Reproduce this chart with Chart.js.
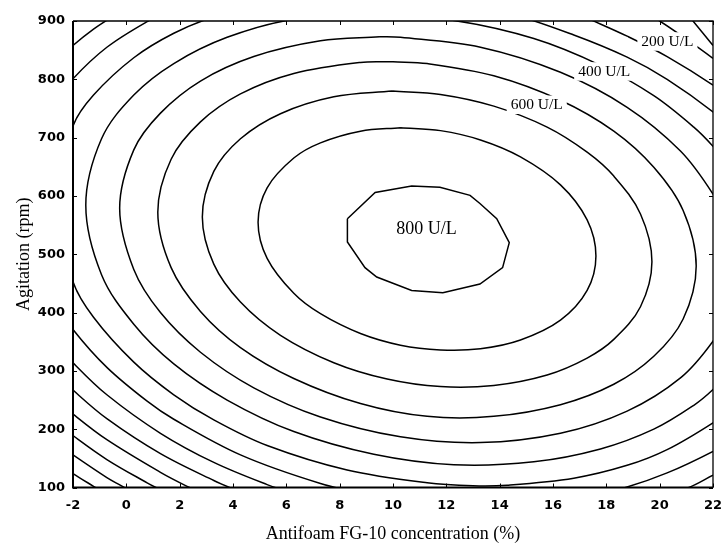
<!DOCTYPE html>
<html>
<head>
<meta charset="utf-8">
<script src="https://cdn.jsdelivr.net/npm/chart.js@4.4.1/dist/chart.umd.min.js"></script>
<style>
  html, body { margin: 0; padding: 0; background: #fff; }
  #wrap { width: 721px; height: 545px; }
</style>
</head>
<body>
<div id="wrap"><canvas id="contour"></canvas></div>
<script>
// contour levels (U/L), each traced as one or more pieces of [antifoam %, agitation rpm]
const levels = [800, 700, 600, 500, 400, 300, 200, 100, 0, -100, -200, -300, -400, -500];

const lvl800 = [[[8.29,561],[9.33,606],[10.70,617],[11.76,615],[12.89,601],[13.26,587],[13.89,561],[14.36,520],[14.11,477],[13.26,449],[11.87,434],[10.70,438],[9.39,461],[8.95,477],[8.29,521],[8.29,561]]];
const lvl700 = [[[10.28,717],[11.78,712],[13.28,696],[14.78,667],[16.28,619],[17.28,559],[17.61,497],[17.28,438],[16.28,387],[14.78,353],[13.28,338],[11.78,336],[10.28,344],[8.78,364],[7.28,398],[6.28,433],[5.28,493],[4.94,555],[5.28,614],[6.28,665],[7.28,691],[8.78,711],[10.28,717]]];
const lvl600 = [[[9.98,780],[11.78,774],[13.78,754],[15.78,718],[17.28,675],[18.28,634],[19.28,569],[19.71,487],[19.28,410],[18.28,354],[17.28,322],[15.78,293],[13.78,275],[11.78,273],[9.78,286],[7.78,314],[5.78,361],[4.28,418],[3.28,483],[2.85,564],[3.28,642],[4.28,698],[5.78,741],[7.78,770],[9.98,780]]];
const lvl500 = [[[10.0,830],[11.28,827],[13.78,806],[16.28,764],[18.28,711],[19.78,649],[20.88,575],[21.37,480],[20.88,389],[19.78,325],[18.28,277],[16.28,242],[13.78,222],[11.28,222],[8.78,244],[6.28,287],[4.28,340],[2.78,402],[1.68,477],[1.18,572],[1.68,663],[2.78,727],[4.28,775],[6.28,810],[8.78,829],[10.0,830]]];
const lvl400 = [[[9.5,873],[10.28,872],[13.28,855],[16.28,812],[18.78,752],[20.78,677],[22.0,603],[22.48,556],[22.8,473],[22.48,394],[22.0,351],[20.78,288],[18.78,231],[16.28,193],[13.28,177],[10.28,187],[7.28,221],[4.78,271],[2.78,332],[1.28,400],[0.28,474],[-0.25,579],[0.28,679],[1.28,742],[2.78,797],[4.78,839],[7.28,866],[9.5,873]]];
const lvl300 = [[[9.28,911],[12.28,901],[15.28,870],[17.78,824],[19.78,772],[21.28,718],[22.0,685],[22.78,641],[23.48,585],[24.07,467],[23.48,355],[22.78,306],[22.0,268],[21.28,241],[19.78,200],[17.78,166],[15.28,144],[12.28,139],[9.28,157],[6.28,196],[3.78,250],[1.78,312],[0.28,380],[-0.93,465],[-1.52,584],[-0.93,698],[0.28,773],[1.78,827],[3.78,872],[6.28,903],[9.28,911]]];
const lvl200 = [[[-2.68,590],[-2.0,720],[-1.23,773],[0.28,837],[1.78,879],[3.28,907],[5.28,930],[8.28,945],[11.28,941],[14.28,914],[16.78,876],[18.78,838],[20.28,800],[22.0,744],[22.78,710],[23.78,653],[24.48,600],[25.23,462],[24.48,331],[23.78,284],[22.78,238],[22.0,211],[20.28,165],[18.78,138],[16.78,116],[14.28,104],[13.0,103],[11.28,108],[8.28,130],[5.28,172],[3.28,216],[1.78,259],[0.28,315],[-1.23,392],[-2.0,453],[-2.68,590]]];
const lvl100 = [
  [[1.78,921],[0.78,899],[-0.73,855],[-2.0,801],[-2.73,757]],
  [[-2.73,422],[-2.0,371],[-0.73,306],[0.78,248],[1.78,217],[4.28,156],[7.28,107],[9.28,86]],
  [[17.28,905],[18.78,874],[20.28,839],[22.0,790],[22.78,761]],
  [[17.28,86],[18.78,101],[20.28,125],[22.0,162],[22.78,184]]
];
const lvl0 = [
  [[-2.73,827],[-2.0,858],[-1.23,886],[-0.53,907],[0.28,928]],
  [[-2.73,352],[-2.0,314],[-0.73,259],[1.28,193],[3.28,143],[5.28,105],[6.28,90]],
  [[19.5,912],[20.0,900],[21.0,869],[22.0,836],[22.78,808]],
  [[20.0,85],[21.1,100],[22.0,121],[22.78,139]]
];
const lvlM100 = [
  [[-2.73,299],[-2.0,267],[-0.73,218],[1.28,158],[3.28,112],[4.28,92],[4.78,83]],
  [[20.9,920],[21.25,900],[22.0,858],[22.5,829]]
];
const lvlM200 = [[[-2.73,255],[-2.0,226],[-0.73,182],[1.28,126],[2.28,102],[2.78,92]]];
const lvlM300 = [[[-2.73,215],[-2.0,189],[-0.73,148],[0.78,108],[1.28,96],[1.78,84]]];
const lvlM400 = [[[-2.73,180],[-2.0,156],[-0.73,117],[-0.23,104],[0.28,91]]];
const lvlM500 = [[[-2.73,147],[-2.0,124],[-1.23,102],[-0.73,88]]];

const xTicks = [-2, 0, 2, 4, 6, 8, 10, 12, 14, 16, 18, 20, 22];
const yTicks = [100, 200, 300, 400, 500, 600, 700, 800, 900];

// contour labels and where they sit (data units)
const labelText = ['800 U/L', '600 U/L', '400 U/L', '200 U/L'];
const labelX = [11.26, 15.39, 17.92, 20.29];
const labelY = [542.5, 755.5, 812.6, 864];

const lines = {
  800: lvl800, 700: lvl700, 600: lvl600, 500: lvl500, 400: lvl400, 300: lvl300,
  200: lvl200, 100: lvl100, 0: lvl0, '-100': lvlM100, '-200': lvlM200,
  '-300': lvlM300, '-400': lvlM400, '-500': lvlM500
};

const datasets = [];
levels.forEach(lv => {
  lines[lv].forEach(piece => {
    datasets.push({
      label: lv + ' U/L',
      data: piece.map(p => ({ x: p[0], y: p[1] })),
      showLine: true,
      borderColor: '#000',
      borderWidth: 1.5,
      pointRadius: 0,
      tension: lv === 800 ? 0 : 0.35,
      fill: false
    });
  });
});

const serif = "'Liberation Serif', 'Times New Roman', serif";
const tickFont = { family: "'DejaVu Sans', sans-serif", size: 13, weight: 'bold' };

// white-backed labels on the lines, then the frame with inward ticks
const decor = {
  id: 'decor',
  afterDatasetsDraw(chart) {
    const { ctx, scales: { x, y } } = chart;
    ctx.save();
    labelText.forEach((t, i) => {
      const size = i === 0 ? 18 : 15.5;
      ctx.font = size + 'px ' + serif;
      const px = x.getPixelForValue(labelX[i]);
      const py = y.getPixelForValue(labelY[i]);
      const w = ctx.measureText(t).width;
      ctx.fillStyle = '#fff';
      ctx.fillRect(px - w / 2 - 4, py - size * 0.5 - 2, w + 8, size + 3);
      ctx.fillStyle = '#000';
      ctx.textAlign = 'center';
      ctx.textBaseline = 'middle';
      ctx.fillText(t, px, py);
    });
    ctx.restore();
  },
  afterDraw(chart) {
    const { ctx, chartArea: a, scales: { x, y } } = chart;
    ctx.save();
    ctx.strokeStyle = '#000';
    ctx.lineWidth = 1;
    ctx.beginPath();
    xTicks.forEach(v => {
      const px = Math.round(x.getPixelForValue(v)) + 0.5;
      ctx.moveTo(px, a.bottom); ctx.lineTo(px, a.bottom - 4);
      ctx.moveTo(px, a.top); ctx.lineTo(px, a.top + 4);
    });
    yTicks.forEach(v => {
      const py = Math.round(y.getPixelForValue(v)) + 0.5;
      ctx.moveTo(a.left, py); ctx.lineTo(a.left + 4, py);
      ctx.moveTo(a.right, py); ctx.lineTo(a.right - 4, py);
    });
    ctx.stroke();
    ctx.lineWidth = 1.3;
    ctx.beginPath();
    ctx.moveTo(a.left, a.top); ctx.lineTo(a.right, a.top); ctx.lineTo(a.right, a.bottom);
    ctx.stroke();
    ctx.lineWidth = 2;
    ctx.beginPath();
    ctx.moveTo(a.left, a.top); ctx.lineTo(a.left, a.bottom); ctx.lineTo(a.right, a.bottom);
    ctx.stroke();
    ctx.restore();
  }
};

new Chart(document.getElementById('contour'), {
  type: 'scatter',
  data: { datasets },
  options: {
    responsive: true,
    maintainAspectRatio: false,
    animation: false,
    layout: { padding: { left: 0, right: 8, top: 21, bottom: 0 } },
    elements: { line: { capBezierPoints: false } },
    plugins: { legend: { display: false }, tooltip: { enabled: false } },
    scales: {
      x: {
        type: 'linear', min: -2, max: 22,
        afterBuildTicks: s => { s.ticks = xTicks.map(v => ({ value: v })); },
        afterFit: s => { s.height = 57.5; s.paddingLeft = 0; s.paddingRight = 0; },
        grid: { display: false, drawTicks: false },
        border: { display: false },
        ticks: { font: tickFont, color: '#000', padding: 10, autoSkip: false, maxRotation: 0 },
        title: { display: true, text: 'Antifoam FG-10 concentration (%)', color: '#000', font: { family: serif, size: 18 }, padding: 0 }
      },
      y: {
        type: 'linear', min: 100, max: 900,
        afterBuildTicks: s => { s.ticks = yTicks.map(v => ({ value: v })); },
        afterFit: s => { s.width = 73; s.paddingTop = 0; s.paddingBottom = 0; },
        grid: { display: false, drawTicks: false },
        border: { display: false },
        ticks: { font: tickFont, color: '#000', padding: 8, autoSkip: false },
        title: { display: true, text: 'Agitation (rpm)', color: '#000', font: { family: serif, size: 18 }, padding: { top: 13, bottom: 0 } }
      }
    }
  },
  plugins: [decor]
});
</script>
</body>
</html>
